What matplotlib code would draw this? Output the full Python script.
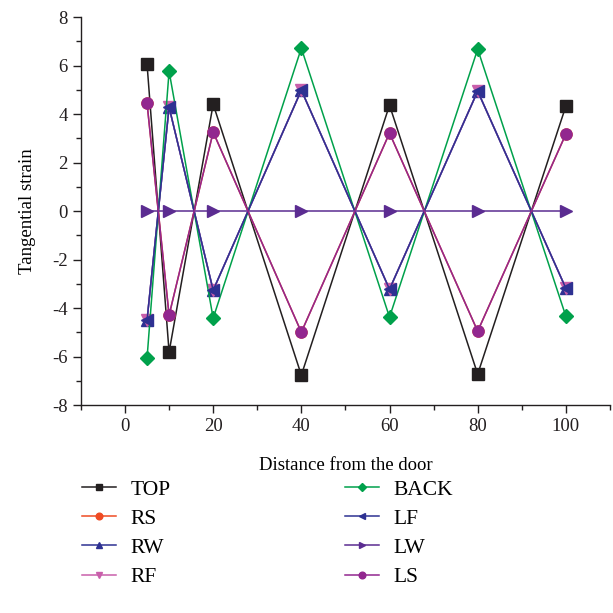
import numpy as np
import matplotlib
matplotlib.use("Agg")
import matplotlib.pyplot as plt
from matplotlib.ticker import MultipleLocator

plt.rcParams['font.family'] = 'serif'
plt.rcParams['font.serif'] = ['Liberation Serif', 'DejaVu Serif']
plt.rcParams['font.size'] = 13.5
plt.rcParams['axes.unicode_minus'] = False

# ------------------------------------------------------------------
# Data
# ------------------------------------------------------------------
distance = [5, 10, 20, 40, 60, 80, 100]

top  = [6.06, -5.81, 4.41, -6.76, 4.37, -6.72, 4.33]
rs   = [4.45, -4.29, 3.26, -4.99, 3.22, -4.95, 3.18]
rw   = [-4.49, 4.29, -3.26, 4.99, -3.22, 4.95, -3.18]
rf   = [-4.49, 4.29, -3.26, 4.99, -3.22, 4.95, -3.18]
back = [-6.06, 5.77, -4.41, 6.72, -4.37, 6.68, -4.33]
lf   = [-4.49, 4.29, -3.26, 4.99, -3.22, 4.95, -3.18]
lw   = [0, 0, 0, 0, 0, 0, 0]
ls   = [4.45, -4.29, 3.26, -4.99, 3.22, -4.95, 3.18]

series = [
    ('TOP',  top,  '#231f20', 's'),
    ('RS',   rs,   '#ef4b23', 'o'),
    ('RW',   rw,   '#2e3192', '^'),
    ('RF',   rf,   '#c95fab', 'v'),
    ('BACK', back, '#00a14b', 'D'),
    ('LF',   lf,   '#2e3192', '<'),
    ('LW',   lw,   '#5b2c91', '>'),
    ('LS',   ls,   '#92278f', 'o'),
]

# ------------------------------------------------------------------
# Figure
# ------------------------------------------------------------------
fig = plt.figure(figsize=(6.13, 6.13), dpi=100)
ax = fig.add_axes([0.132, 0.339, 0.863, 0.633])

for name, vals, c, m in series:
    ms = 7 if m == 'D' else 8
    ax.plot(distance, vals, '-', color=c, marker=m, markersize=ms,
            linewidth=1.1, label=name)

ax.set_xlim(-10, 110)
ax.set_ylim(-8, 8)
ax.xaxis.set_major_locator(MultipleLocator(20))
ax.xaxis.set_minor_locator(MultipleLocator(10))
ax.yaxis.set_major_locator(MultipleLocator(2))
ax.yaxis.set_minor_locator(MultipleLocator(1))
ax.set_xticks([0, 20, 40, 60, 80, 100])
ax.tick_params(which='major', direction='out', length=6, width=1, colors='#231f20')
ax.tick_params(which='minor', direction='out', length=3.5, width=1, colors='#231f20')
for side in ['top', 'right']:
    ax.spines[side].set_visible(False)
for side in ['left', 'bottom']:
    ax.spines[side].set_color('#231f20')
    ax.spines[side].set_linewidth(1)

ax.set_xlabel('Distance from the door', labelpad=15.5)
ax.set_ylabel('Tangential strain', labelpad=11.5)

fig.legend(loc='upper left', bbox_to_anchor=(0.102, 0.249), ncol=2,
           frameon=False, markerscale=0.6, handlelength=1.6,
           columnspacing=8.1, labelspacing=0.42, fontsize=15.5,
           handletextpad=0.65)

fig.savefig('out.png', dpi=100)
